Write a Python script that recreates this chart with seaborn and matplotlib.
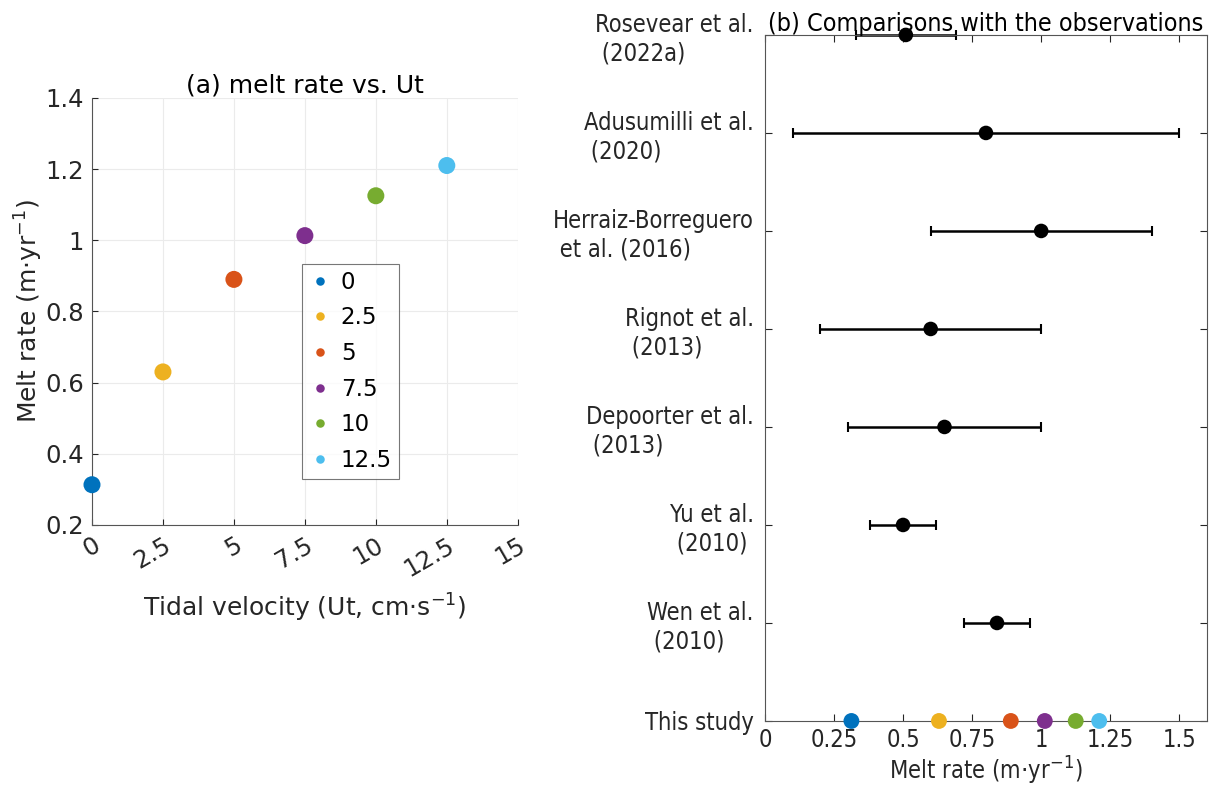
import numpy as np
import pandas as pd
import matplotlib
matplotlib.use("Agg")
import matplotlib.pyplot as plt
import matplotlib.ticker as mticker
import seaborn as sns

# %% dados
ut = [0, 2.5, 5, 7.5, 10, 12.5]
melt = [0.313, 0.63, 0.89, 1.013, 1.125, 1.21]
ut_labels = ['0', '2.5', '5', '7.5', '10', '12.5']
cores = ['#0072BD', '#EDB120', '#D95319', '#7E2F8E', '#77AC30', '#4DBEEE']

obs_labels = ['Rosevear et al.\n (2022a)', 'Adusumilli et al.\n (2020)',
              'Herraiz-Borreguero\n et al. (2016)', 'Rignot et al.\n (2013)',
              'Depoorter et al.\n (2013)', 'Yu et al.\n (2010)',
              'Wen et al.\n (2010)', 'This study']
obs_mean = [0.51, 0.80, 1.00, 0.60, 0.65, 0.50, 0.84]
obs_err = [0.18, 0.70, 0.40, 0.40, 0.35, 0.12, 0.12]

xticks_a = [0, 2.5, 5, 7.5, 10, 12.5, 15]
yticks_a = [0.2, 0.4, 0.6, 0.8, 1.0, 1.2, 1.4]
xticks_b = [0, 0.25, 0.5, 0.75, 1, 1.25, 1.5]

# %% figura
sns.set_style('ticks')
plt.rcParams['font.family'] = ['DejaVu Sans']
plt.rcParams['mathtext.fontset'] = 'dejavusans'
txt = '#262626'

fig = plt.figure(figsize=(12.2, 7.87), dpi=100)
ax1 = fig.add_axes([0.0754, 0.333, 0.349, 0.5426])
ax2 = fig.add_axes([0.627, 0.0839, 0.3623, 0.8717])

# (a)
df_a = pd.DataFrame({'ut': ut, 'melt': melt, 'lab': ut_labels})
sns.scatterplot(data=df_a, x='ut', y='melt', hue='lab', palette=cores,
                s=150, edgecolor='none', ax=ax1, clip_on=False, zorder=3)
ax1.set_xlim(0, 15)
ax1.set_ylim(0.2, 1.4)
ax1.set_xticks(xticks_a)
ax1.set_yticks(yticks_a)
ax1.xaxis.set_major_formatter(mticker.FuncFormatter(lambda v, p: f'{v:g}'))
ax1.yaxis.set_major_formatter(mticker.FuncFormatter(lambda v, p: f'{v:g}'))
ax1.grid(True, color='#ebebeb', lw=0.8)
for s in ['top', 'right']:
    ax1.spines[s].set_visible(False)
for s in ['left', 'bottom']:
    ax1.spines[s].set_color('#555555')
ax1.tick_params(direction='in', length=4, labelsize=17.5, colors=txt, pad=6)
plt.setp(ax1.get_xticklabels(), rotation=30, ha='right', va='top',
         rotation_mode='anchor')
ax1.set_xlabel(r'Tidal velocity (Ut, cm$\cdot$s$^{-1}$)', fontsize=18, color=txt, labelpad=8)
ax1.set_ylabel(r'Melt rate (m$\cdot$yr$^{-1}$)', fontsize=18, color=txt, labelpad=0)
ax1.set_title('(a) melt rate vs. Ut', fontsize=18, color='black', pad=3)
leg = ax1.legend(loc='upper left', bbox_to_anchor=(0.493, 0.611), fontsize=16.5,
                 frameon=True, fancybox=False, markerscale=0.5,
                 handlelength=1.0, handletextpad=0.4, borderpad=0.3,
                 labelspacing=0.55, borderaxespad=0)
leg.get_frame().set_edgecolor('#555555')
leg.get_frame().set_linewidth(0.8)
for t in leg.get_texts():
    t.set_color('black')

# (b)
cond = dict(family='DejaVu Sans', stretch='condensed')
ypos = np.arange(len(obs_labels))[::-1]
df_obs = pd.DataFrame({'m': obs_mean, 'y': ypos[:len(obs_mean)]})
ax2.errorbar(obs_mean, ypos[:len(obs_mean)], xerr=obs_err, fmt='none',
             ecolor='black', elinewidth=1.8, capsize=3.5, capthick=1.5,
             clip_on=False, zorder=2)
sns.scatterplot(data=df_obs, x='m', y='y', color='black', s=110,
                edgecolor='none', ax=ax2, clip_on=False, zorder=3, legend=False)
df_this = pd.DataFrame({'m': melt, 'y': [ypos[-1]] * len(melt), 'lab': ut_labels})
sns.scatterplot(data=df_this, x='m', y='y', hue='lab', palette=cores, s=130,
                edgecolor='none', ax=ax2, clip_on=False, zorder=3, legend=False)
ax2.set_xlim(0, 1.6)
ax2.set_ylim(0, len(obs_labels) - 1)
ax2.set_xticks(xticks_b)
ax2.xaxis.set_major_formatter(mticker.FuncFormatter(lambda v, p: f'{v:g}'))
ax2.set_yticks(ypos)
ax2.set_yticklabels(obs_labels, multialignment='left')
for s in ax2.spines.values():
    s.set_color('#555555')
    s.set_visible(True)
ax2.tick_params(direction='in', length=5, top=True, right=True,
                labelsize=17, colors=txt, pad=8)
ax2.tick_params(axis='x', pad=5)
for t in ax2.get_xticklabels() + ax2.get_yticklabels():
    t.set_fontproperties(dict(cond, size=17))
ax2.set_xlabel(r'Melt rate (m$\cdot$yr$^{-1}$)', fontsize=17, color=txt,
               labelpad=2, **cond)
ax2.set_ylabel('')
ax2.set_title('(b) Comparisons with the observations', fontsize=18,
              color='black', pad=3, **cond)

fig.savefig('out.png', dpi=100)
